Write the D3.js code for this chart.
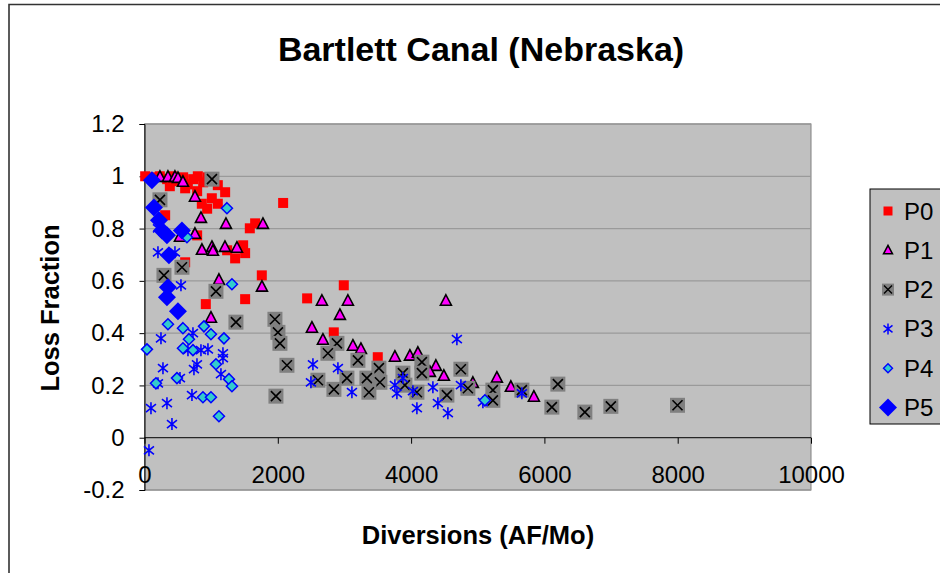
<!DOCTYPE html>
<html>
<head>
<meta charset="utf-8">
<script src="https://cdn.jsdelivr.net/npm/d3@7"></script>
<style>
  body { margin: 0; background: #fff; }
  svg { display: block; font-family: "Liberation Sans", Arial, sans-serif; }
</style>
</head>
<body>
<svg id="chart" width="940" height="573"></svg>
<script>
// values: [diversion AF/Mo, loss fraction]
var p0 = [[10,1.0],[110,0.996],[230,1.0],[340,0.989],[410,1.0],[500,0.981],[580,0.996],[650,0.969],
  [730,0.989],[800,1.0],[880,0.977],[610,0.954],[380,0.962],[950,0.996],[1100,0.966],[790,0.943],
  [860,0.895],[1010,0.916],[1100,0.895],[1210,0.939],[940,0.876],[2080,0.898],[1580,0.801],[1660,0.82],
  [790,0.774],[310,0.851],[1480,0.736],[1510,0.706],[1360,0.686],[1240,0.717],[610,0.671],[1760,0.621],
  [1510,0.53],[920,0.511],[2440,0.533],[2990,0.583],[2840,0.403],[3500,0.308]];
var p1 = [[232,0.996],[352,0.996],[457,0.996],[502,0.992],[577,0.977],[757,0.92],[847,0.839],[1222,0.816],
  [1777,0.816],[757,0.778],[532,0.767],[862,0.717],[1012,0.728],[1027,0.713],[1207,0.728],[1387,0.725],
  [1117,0.602],[1762,0.576],[997,0.457],[2662,0.522],[3052,0.522],[4522,0.522],[2932,0.468],[2512,0.419],
  [2677,0.373],[3127,0.35],[3247,0.338],[3757,0.308],[3982,0.312],[4102,0.323],[4372,0.273],[4492,0.235],
  [4282,0.25],[4927,0.208],[5287,0.228],[5497,0.193],[5842,0.155]];
var p2 = [[1012,0.989],[232,0.91],[562,0.652],[292,0.621],[1072,0.56],[1372,0.442],[1957,0.453],[2002,0.403],
  [2032,0.361],[2137,0.277],[1972,0.159],[2887,0.361],[2752,0.323],[3202,0.296],[3517,0.266],[2602,0.22],
  [3037,0.228],[3337,0.228],[3532,0.212],[2842,0.185],[3367,0.174],[4162,0.289],[4162,0.247],[3877,0.247],
  [4747,0.262],[3907,0.201],[4087,0.174],[4537,0.163],[4852,0.189],[5227,0.182],[5227,0.143],[5662,0.182],
  [6202,0.205],[6112,0.117],[6607,0.098],[6997,0.12],[7997,0.124]];
var p3 = [[202,0.709],[457,0.709],[202,0.801],[547,0.583],[247,0.38],[727,0.4],[652,0.335],[847,0.335],
  [952,0.338],[1177,0.323],[1177,0.304],[277,0.266],[787,0.281],[742,0.262],[1147,0.243],[532,0.228],
  [202,0.208],[712,0.163],[337,0.132],[97,0.113],[412,0.052],[67,-0.048],[4687,0.377],[2527,0.281],
  [2902,0.266],[2497,0.212],[3112,0.174],[3757,0.201],[3877,0.228],[3787,0.17],[4027,0.178],[4087,0.113],
  [4402,0.132],[4552,0.094],[4747,0.201],[4327,0.193],[5077,0.136],[5662,0.17]];
var p4 = [[1237,0.878],[637,0.767],[1312,0.587],[352,0.434],[577,0.419],[892,0.426],[997,0.396],[1192,0.38],
  [667,0.377],[37,0.338],[577,0.342],[727,0.335],[1072,0.281],[1267,0.224],[1312,0.197],[172,0.208],
  [487,0.228],[877,0.155],[997,0.155],[1117,0.082],[5107,0.143]];
var p5 = [[112,0.985],[142,0.881],[217,0.832],[262,0.793],[337,0.774],[562,0.793],[367,0.698],[352,0.576],
  [337,0.537],[502,0.484]];

var seriesNames = ["P0", "P1", "P2", "P3", "P4", "P5"];
var xTicks = [0, 2000, 4000, 6000, 8000, 10000];
var yTicks = [-0.2, 0, 0.2, 0.4, 0.6, 0.8, 1, 1.2];

var svg = d3.select("#chart");
var plot = { left: 144.5, right: 811, top: 124, bottom: 490 };
var FONT = "Liberation Sans, Arial, sans-serif";

var x = d3.scaleLinear().domain([0, 10000]).range([plot.left, plot.right]);
var y = d3.scaleLinear().domain([-0.2, 1.2]).range([plot.bottom, plot.top]);

// outer chart border (runs off the page right and bottom)
svg.append("path")
  .attr("d", "M9,580 L9,4.5 L950,4.5")
  .attr("fill", "none").attr("stroke", "#333").attr("stroke-width", 1.6);

// plot area
svg.append("rect")
  .attr("x", plot.left).attr("y", plot.top)
  .attr("width", plot.right - plot.left).attr("height", plot.bottom - plot.top)
  .attr("fill", "#c0c0c0").attr("stroke", "#808080").attr("stroke-width", 1);

// gridlines
svg.append("g").selectAll("line")
  .data(yTicks.filter(function(d) { return d !== 0; }))
  .join("line")
  .attr("x1", plot.left).attr("x2", plot.right)
  .attr("y1", function(d) { return y(d); }).attr("y2", function(d) { return y(d); })
  .attr("stroke", "#9a9a9a").attr("stroke-width", 1.3);

// axes
var yAxis = d3.axisLeft(y).tickValues(yTicks).tickSize(5).tickPadding(15)
  .tickFormat(function(d) { return String(+d.toFixed(1)); });
svg.append("g").attr("transform", "translate(" + plot.left + ",0)").call(yAxis)
  .call(function(g) {
    g.selectAll("path, line").attr("stroke", "#000");
    g.selectAll("text").attr("font-size", 24).attr("fill", "#000").attr("font-family", FONT);
  });

var xAxis = d3.axisBottom(x).tickValues(xTicks).tickSize(6).tickPadding(22).tickSizeOuter(0)
  .tickFormat(d3.format("d"));
svg.append("g").attr("transform", "translate(0," + y(0) + ")").call(xAxis)
  .call(function(g) {
    g.selectAll("path, line").attr("stroke", "#000");
    g.select(".domain").attr("d", "M" + plot.left + ",0H" + plot.right);
    g.selectAll("text").attr("font-size", 24).attr("fill", "#000").attr("font-family", FONT);
  });

// marker drawers
function square(g, s, fill) {
  g.append("rect").attr("x", -s / 2).attr("y", -s / 2).attr("width", s).attr("height", s).attr("fill", fill);
}
function triangle(g) {
  g.append("path").attr("d", "M0,-6.5 L5.5,4 L-5.5,4 Z")
    .attr("fill", "#ff00ff").attr("stroke", "#000").attr("stroke-width", 1.6).attr("stroke-linejoin", "miter");
}
function cross(g) {
  g.append("rect").attr("x", -7.5).attr("y", -7.5).attr("width", 15).attr("height", 15).attr("fill", "#808080");
  g.append("path").attr("d", "M-5,-5 L5,5 M5,-5 L-5,5").attr("stroke", "#000").attr("stroke-width", 1.6);
}
function star(g) {
  g.append("path").attr("d", "M0,-6 L0,6 M-5,-4 L5,4 M5,-4 L-5,4")
    .attr("stroke", "#0000ff").attr("stroke-width", 1.6).attr("fill", "none");
}
function smallDiamond(g) {
  g.append("path").attr("d", "M0,-5.5 L5.5,0 L0,5.5 L-5.5,0 Z")
    .attr("fill", "#33cccc").attr("stroke", "#0000ff").attr("stroke-width", 1.5);
}
function bigDiamond(g) {
  g.append("path").attr("d", "M0,-9 L9,0 L0,9 L-9,0 Z").attr("fill", "#0000ff");
}
var drawers = [
  function(g) { square(g, 10, "#ff0000"); },
  triangle, cross, star, smallDiamond, bigDiamond
];
var allSeries = [p0, p1, p2, p3, p4, p5];

allSeries.forEach(function(data, i) {
  svg.append("g").attr("class", "series-" + seriesNames[i])
    .selectAll("g").data(data).join("g")
    .attr("transform", function(d) { return "translate(" + x(d[0]) + "," + y(d[1]) + ")"; })
    .each(function() { drawers[i](d3.select(this)); });
});

// titles
svg.append("text").attr("x", 481).attr("y", 61).attr("text-anchor", "middle")
  .attr("font-size", 34).attr("font-weight", "bold").text("Bartlett Canal (Nebraska)");
svg.append("text").attr("x", 478).attr("y", 544).attr("text-anchor", "middle")
  .attr("font-size", 25.5).attr("font-weight", "bold").text("Diversions (AF/Mo)");
svg.append("text").attr("transform", "translate(59,308) rotate(-90)").attr("text-anchor", "middle")
  .attr("font-size", 25.5).attr("font-weight", "bold").text("Loss Fraction");

// legend
var legend = svg.append("g").attr("transform", "translate(870,189)");
legend.append("rect").attr("x", 0).attr("y", 0).attr("width", 90).attr("height", 235)
  .attr("fill", "#c0c0c0").attr("stroke", "#000").attr("stroke-width", 1);
seriesNames.forEach(function(name, i) {
  var row = legend.append("g").attr("transform", "translate(0," + (22 + i * 39.3) + ")");
  var mk = row.append("g").attr("transform", "translate(18,0)");
  if (i === 0) square(mk, 9, "#ff0000");
  else if (i === 1) mk.append("path").attr("d", "M0,-5 L4.5,3.5 L-4.5,3.5 Z")
    .attr("fill", "#ff00ff").attr("stroke", "#000").attr("stroke-width", 1.5);
  else if (i === 2) {
    mk.append("rect").attr("x", -6).attr("y", -6).attr("width", 12).attr("height", 12).attr("fill", "#808080");
    mk.append("path").attr("d", "M-4,-4 L4,4 M4,-4 L-4,4").attr("stroke", "#000").attr("stroke-width", 1.4);
  }
  else if (i === 3) mk.append("path").attr("d", "M0,-5.5 L0,5.5 M-4.5,-3.5 L4.5,3.5 M4.5,-3.5 L-4.5,3.5")
    .attr("stroke", "#0000ff").attr("stroke-width", 1.5);
  else if (i === 4) mk.append("path").attr("d", "M0,-4.5 L4.5,0 L0,4.5 L-4.5,0 Z")
    .attr("fill", "#33cccc").attr("stroke", "#0000ff").attr("stroke-width", 1.4);
  else bigDiamond(mk);
  row.append("text").attr("x", 34).attr("y", 8.5).attr("font-size", 24).text(name);
});
</script>
</body>
</html>
